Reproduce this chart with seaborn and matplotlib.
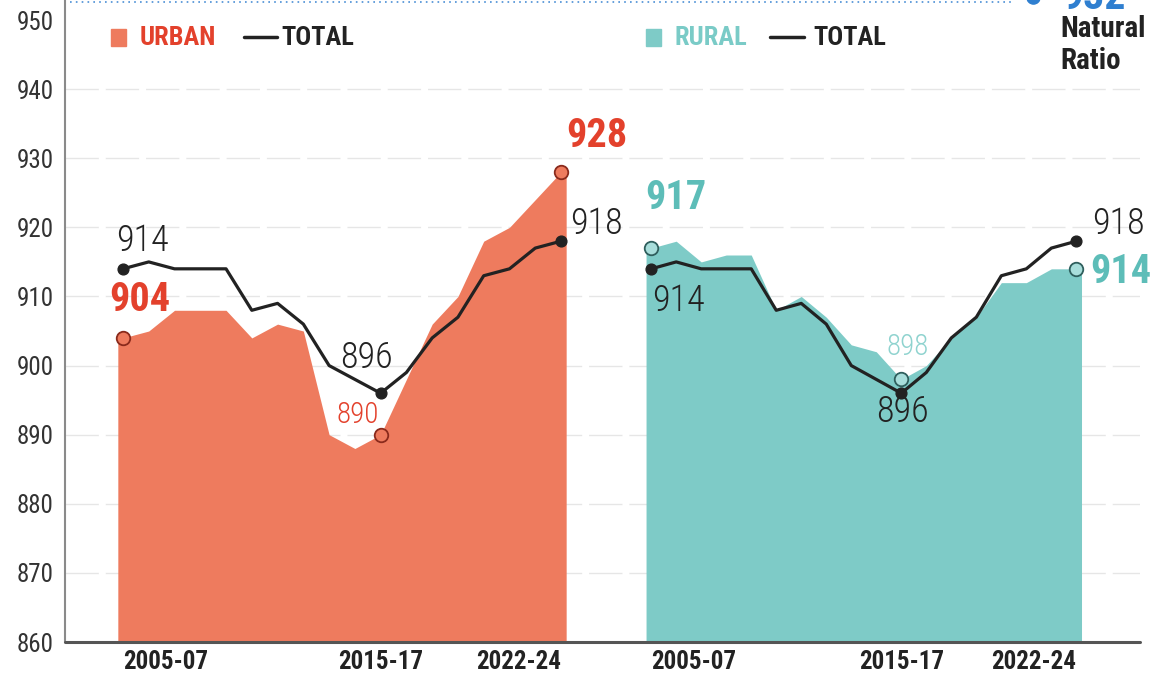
import numpy as np
import pandas as pd
import seaborn as sns
import matplotlib.pyplot as plt
from matplotlib import font_manager
from matplotlib.lines import Line2D
from matplotlib.patches import Rectangle

periods = ['2005-07', '2006-08', '2007-09', '2008-10', '2009-11', '2010-12',
           '2011-13', '2012-14', '2013-15', '2014-16', '2015-17', '2016-18',
           '2017-19', '2018-20', '2019-21', '2020-22', '2021-23', '2022-24']
urban = [904, 905, 908, 908, 908, 904, 906, 905, 890, 888, 890, 898, 906, 910, 918, 920, 924, 928]
rural = [917, 918, 915, 916, 916, 908, 910, 907, 903, 902, 898, 900, 904, 907, 912, 912, 914, 914]
total = [914, 915, 914, 914, 914, 908, 909, 906, 900, 898, 896, 899, 904, 907, 913, 914, 917, 918]
tick_periods = ['2005-07', '2015-17', '2022-24']
natural_ratio = 932

URBAN_FILL = '#ee7b5e'
URBAN_TXT = '#e3412c'
RURAL_FILL = '#7ecbc7'
RURAL_TXT = '#5dbdb8'
DARK = '#222222'

# pick a condensed face if one is around
installed = {f.name for f in font_manager.fontManager.ttflist}
cands = ['Roboto Condensed', 'Barlow Condensed', 'Archivo Narrow',
         'Liberation Sans Narrow', 'Liberation Sans']
FONT = [next(c for c in cands if c in installed), 'DejaVu Sans']

sns.set_style('white')
plt.rcParams['font.family'] = FONT

W, H = 1153, 677
fig = plt.figure(figsize=(W / 100, H / 100), dpi=100)
ax = fig.add_axes([65 / W, 35 / H, (1140 - 65) / W, 642 / H])

# two panels sharing one axis
x_left = np.arange(len(periods), dtype=float)
x_right = np.linspace(20.5, 37.0, len(periods))
df = pd.concat([
    pd.DataFrame({'x': x_left, 'period': periods, 'area': urban, 'total': total, 'panel': 'urban'}),
    pd.DataFrame({'x': x_right, 'period': periods, 'area': rural, 'total': total, 'panel': 'rural'}),
])

ax.set_xlim(-2.25, 39.47)
ax.set_ylim(860, 952.9)

for y in range(870, 950, 10):
    ax.axhline(y, color='#e6e6e6', lw=1, dashes=(24, 5), zorder=0)

for panel, fill in [('urban', URBAN_FILL), ('rural', RURAL_FILL)]:
    d = df[df.panel == panel]
    xs = np.r_[d.x.iloc[0] - 0.2, d.x.values, d.x.iloc[-1] + 0.2]
    ys = np.r_[d.area.iloc[0], d.area.values, d.area.iloc[-1]]
    ax.fill_between(xs, 860, ys, color=fill, lw=0, zorder=1)

sns.lineplot(data=df, x='x', y='total', units='panel', estimator=None,
             color=DARK, lw=2.3, ax=ax, zorder=3, legend=False)

# end / min markers
key = [0, 10, 17]
for panel, face, edge in [('urban', URBAN_FILL, '#8a2a1c'), ('rural', '#a8dedb', '#2f5f5d')]:
    d = df[df.panel == panel].iloc[key]
    ax.scatter(d.x, d.area, s=95, facecolor=face, edgecolor=edge, lw=1.3, zorder=4)
    ax.scatter(d.x, d.total, s=60, color=DARK, zorder=5)


def label(x, y, txt, dx, dy, color, size, weight='normal'):
    ax.annotate(txt, (x, y), xytext=(dx, dy), textcoords='offset pixels',
                ha='center', va='center', color=color, fontsize=size,
                fontweight=weight, zorder=6)


def pick(panel, col, i):
    d = df[df.panel == panel]
    return d.x.iloc[i], d[col].iloc[i]


label(*pick('urban', 'total', 0), str(total[0]), 19, 28, DARK, 26, 'light')
label(*pick('urban', 'area', 0), str(urban[0]), 17, 38, URBAN_TXT, 29, 'heavy')
label(*pick('urban', 'total', 10), str(total[10]), -14, 35, DARK, 26, 'light')
label(*pick('urban', 'area', 10), str(urban[10]), -23, 20, URBAN_TXT, 21, 'light')
label(*pick('urban', 'area', 17), str(urban[17]), 36, 36, URBAN_TXT, 29, 'heavy')
label(*pick('urban', 'total', 17), str(total[17]), 35, 17, DARK, 26, 'light')

label(*pick('rural', 'area', 0), str(rural[0]), 25, 50, RURAL_TXT, 29, 'heavy')
label(*pick('rural', 'total', 0), str(total[0]), 27, -32, DARK, 26, 'light')
label(*pick('rural', 'area', 10), str(rural[10]), 6, 32, '#8fd3cf', 21, 'light')
label(*pick('rural', 'total', 10), str(total[10]), 1, -19, DARK, 26, 'light')
label(*pick('rural', 'total', 17), str(total[17]), 42, 17, DARK, 26, 'light')
label(*pick('rural', 'area', 17), str(rural[17]), 44, -3, RURAL_TXT, 29, 'heavy')

# ticks
ax.set_yticks(range(860, 951, 10))
ax.set_yticklabels([str(v) for v in range(860, 951, 10)], fontsize=18, color='#333333')
tick_idx = [periods.index(p) for p in tick_periods]
ax.set_xticks(list(x_left[tick_idx]) + list(x_right[tick_idx]))
ax.set_xticklabels(tick_periods * 2, fontsize=18, fontweight='bold', color=DARK)
for lab, ha in zip(ax.get_xticklabels(), ['left', 'center', 'right'] * 2):
    lab.set_horizontalalignment(ha)
ax.tick_params(axis='both', length=0)
ax.tick_params(axis='y', pad=8)
ax.tick_params(axis='x', pad=6)
ax.set_xlabel('')
ax.set_ylabel('')

for s in ['top', 'right', 'bottom']:
    ax.spines[s].set_visible(False)
ax.spines['left'].set_color('#8a8a8a')
ax.spines['left'].set_linewidth(1.5)
ax.axhline(860, color='#555555', lw=2.2, zorder=7, clip_on=False)

# natural ratio reference at the top
ax.hlines(952.6, -2.05, 34.6, color='#4a8fd6', lw=1.2, linestyles=(0, (1, 2.5)),
          clip_on=False, zorder=2)
ax.scatter([35.3], [953.4], s=90, color='#2f7fd0', clip_on=False, zorder=8)


def px(x, y):
    return x / W, 1 - y / H


fig.text(*px(1062, 9), str(natural_ratio), color='#2f7fd0', fontsize=30,
         fontweight='heavy', va='baseline', ha='left')
fig.text(*px(1060, 29), 'Natural', color=DARK, fontsize=21, fontweight='bold', va='center')
fig.text(*px(1060, 61), 'Ratio', color=DARK, fontsize=21, fontweight='bold', va='center')

# legends
for x0, color in [(111, URBAN_FILL), (646, RURAL_FILL)]:
    fig.add_artist(Rectangle(px(x0, 46), 15 / W, 17 / H, color=color, transform=fig.transFigure))
for x0, x1 in [(244, 277), (770, 804)]:
    fig.add_artist(Line2D([x0 / W, x1 / W], [1 - 37 / H] * 2, lw=2.5, color=DARK))
fig.text(*px(140, 38), 'URBAN', color=URBAN_TXT, fontsize=19, fontweight='bold', va='center')
fig.text(*px(281, 38), 'TOTAL', color=DARK, fontsize=19, fontweight='bold', va='center')
fig.text(*px(674, 38), 'RURAL', color='#7acbc7', fontsize=19, fontweight='bold', va='center')
fig.text(*px(813, 38), 'TOTAL', color=DARK, fontsize=19, fontweight='bold', va='center')

fig.savefig('out.png', dpi=100)
